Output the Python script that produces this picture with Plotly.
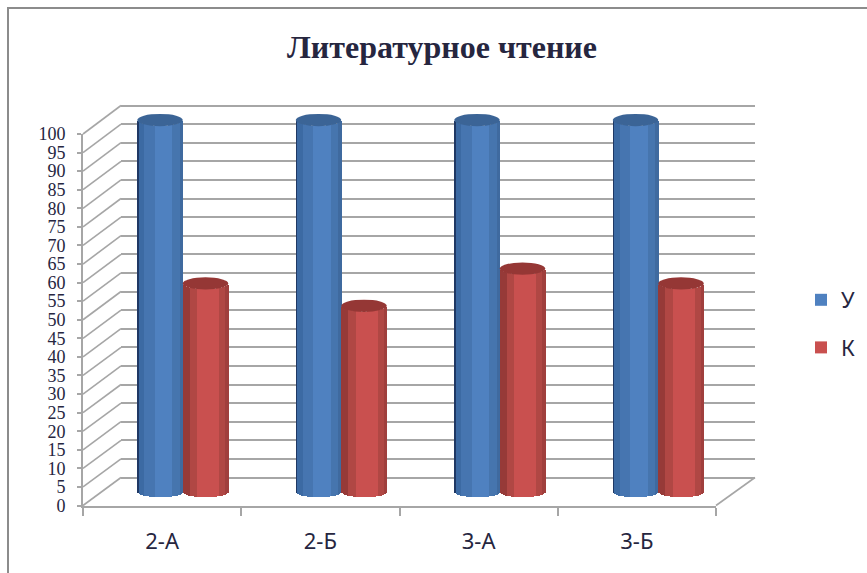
import numpy as np
import plotly.graph_objects as go

# ---- data ----
categories = ["2-А", "2-Б", "3-А", "3-Б"]
series_names = ["У", "К"]
values_u = [100, 100, 100, 100]
values_k = [56, 50, 60, 56]
y_ticks = list(range(0, 101, 5))
title_text = "Литературное чтение"

# ---- layout constants (pixels of the 867x573 page) ----
W, H = 867, 573
FRONT = dict(x0=83, x1=716, y0=505.5, y1=134)
BACK = dict(x0=121, x1=755, y0=477.5, y1=105.5)
MID_X = (103.5, 737.5)
MID_Y0, PX_PER_UNIT = 491.5, 3.715
GRID = "#a6a6a6"
TEXT = "#26263f"
BAR_W = 0.287
ELL = 1.65  # half height of ellipse in value units

BLUE_STEPS = [(-1.0, "#1f3864"), (-0.95, "#3c6aa3"), (-0.67, "#4675b0"), (-0.25, "#4f81c0"),
              (0.55, "#4675ae"), (0.88, "#3f6a9f")]
RED_STEPS = [(-1.0, "#963a38"), (-0.68, "#b04744"), (-0.38, "#c9504f"), (0.62, "#b04744"), (0.9, "#a03f3d")]
BLUE_TOP, RED_TOP = "#3b6496", "#953735"


def px(x):
    return x / W


def py(y):
    return 1 - y / H


def step_colour(steps, u):
    c = steps[0][1]
    for start, col in steps:
        if u >= start:
            c = col
    return c


fig = go.Figure()

# wall: real gridlines on the primary axes
fig.add_trace(go.Scatter(x=[0], y=[0], mode="none", xaxis="x", yaxis="y", showlegend=False, hoverinfo="skip"))

# cylinders: a stack of narrow bars, each one as tall as the data value
N = 31
edges = np.linspace(-1, 1, N + 1)
xpos = np.arange(len(categories))
for name, vals, offs, steps in [
    (series_names[0], values_u, -BAR_W / 2, BLUE_STEPS),
    (series_names[1], values_k, BAR_W / 2, RED_STEPS),
]:
    mid_i = N // 2
    for j in range(N):
        u = (edges[j] + edges[j + 1]) / 2
        drop = ELL * np.sqrt(max(0, 1 - u * u))
        fig.add_trace(go.Bar(
            x=xpos + offs + u * BAR_W / 2,
            y=vals,
            base=[-drop] * len(vals),
            width=BAR_W / N * 1.25,
            marker=dict(color=step_colour(steps, u), line_width=0),
            name=name,
            legendgroup=name,
            showlegend=(j == mid_i),
            xaxis="x2", yaxis="y2",
            hoverinfo="skip",
        ))

# front axes carrying the labels
fig.add_trace(go.Scatter(x=categories, y=values_k, mode="none", xaxis="x3", yaxis="y3",
                         showlegend=False, hoverinfo="skip"))

shapes = []
# side wall diagonals
for t in y_ticks:
    yf = FRONT["y0"] + (FRONT["y1"] - FRONT["y0"]) * t / 100
    yb = BACK["y0"] + (BACK["y1"] - BACK["y0"]) * t / 100
    shapes.append(dict(type="line", xref="paper", yref="paper", layer="below",
                       x0=px(FRONT["x0"]), y0=py(yf), x1=px(BACK["x0"]), y1=py(yb),
                       line=dict(color=GRID, width=1.6)))
# floor right edge
shapes.append(dict(type="line", xref="paper", yref="paper", layer="below",
                   x0=px(FRONT["x1"]), y0=py(FRONT["y0"]), x1=px(BACK["x1"]), y1=py(BACK["y0"]),
                   line=dict(color=GRID, width=1.6)))
# outer frame
shapes.append(dict(type="path", xref="paper", yref="paper", layer="below",
                   path=f"M {px(8)},{py(H)} L {px(8)},{py(8)} L {px(W)},{py(8)}",
                   line=dict(color="#8c8c8c", width=2)))
# cylinder tops
for vals, offs, col in [(values_u, -BAR_W / 2, BLUE_TOP), (values_k, BAR_W / 2, RED_TOP)]:
    for i, v in enumerate(vals):
        shapes.append(dict(type="circle", xref="x2", yref="y2", layer="above",
                           x0=i + offs - BAR_W / 2, x1=i + offs + BAR_W / 2,
                           y0=v - ELL, y1=v + ELL,
                           fillcolor=col, line_width=0))

mid_lo, mid_hi = -15, 115
wall_px = (BACK["y0"] - BACK["y1"]) / 100
wall_pad = 2
fig.update_layout(
    template=None,
    width=W, height=H,
    margin=dict(l=0, r=0, t=0, b=0, autoexpand=False),
    paper_bgcolor="white", plot_bgcolor="rgba(0,0,0,0)",
    barmode="overlay", bargap=0,
    shapes=shapes,
    title=dict(text=f"<b>{title_text}</b>", x=442 / W, xanchor="center", y=py(47), yanchor="middle",
               font=dict(family="Liberation Serif", size=32, color=TEXT)),
    showlegend=True,
    legend=dict(x=px(801), xanchor="left", y=py(279), yanchor="top", bgcolor="rgba(0,0,0,0)",
                tracegroupgap=16, font=dict(family="Noto Sans", size=22, color=TEXT)),
    xaxis=dict(domain=[px(BACK["x0"]), px(BACK["x1"])], range=[0, 1], visible=False, anchor="y"),
    yaxis=dict(domain=[py(BACK["y0"] + wall_pad * wall_px), py(BACK["y1"] - wall_pad * wall_px)],
               range=[-wall_pad, 100 + wall_pad], anchor="x",
               tickvals=y_ticks, showgrid=True, gridcolor=GRID, gridwidth=2,
               showticklabels=False, ticks="", showline=False, zeroline=False),
    xaxis2=dict(domain=[px(MID_X[0]), px(MID_X[1])], range=[-0.5, 3.5], visible=False, anchor="y2"),
    yaxis2=dict(domain=[py(MID_Y0 - mid_lo * PX_PER_UNIT), py(MID_Y0 - mid_hi * PX_PER_UNIT)],
                range=[mid_lo, mid_hi], visible=False, anchor="x2"),
    xaxis3=dict(domain=[px(FRONT["x0"]), px(FRONT["x1"])], anchor="y3", type="category",
                categoryorder="array", categoryarray=categories, range=[-0.5, 3.5],
                tickson="boundaries", ticks="outside", ticklen=8, tickwidth=2, tickcolor=GRID,
                showline=True, linecolor=GRID, linewidth=2, showgrid=False, zeroline=False,
                ticklabelstandoff=15, tickfont=dict(family="Noto Sans", size=22, color=TEXT)),
    yaxis3=dict(domain=[py(FRONT["y0"]), py(FRONT["y1"])], anchor="x3", range=[0, 100],
                tickvals=y_ticks, ticks="outside", ticklen=4, tickwidth=2, tickcolor=GRID,
                showline=True, linecolor=GRID, linewidth=2, showgrid=False, zeroline=False,
                ticklabelstandoff=8, tickfont=dict(family="Liberation Serif", size=18, color=TEXT)),
)

fig.write_html("out.html", post_script="document.body.style.margin='0';",
               config={"displayModeBar": False})
